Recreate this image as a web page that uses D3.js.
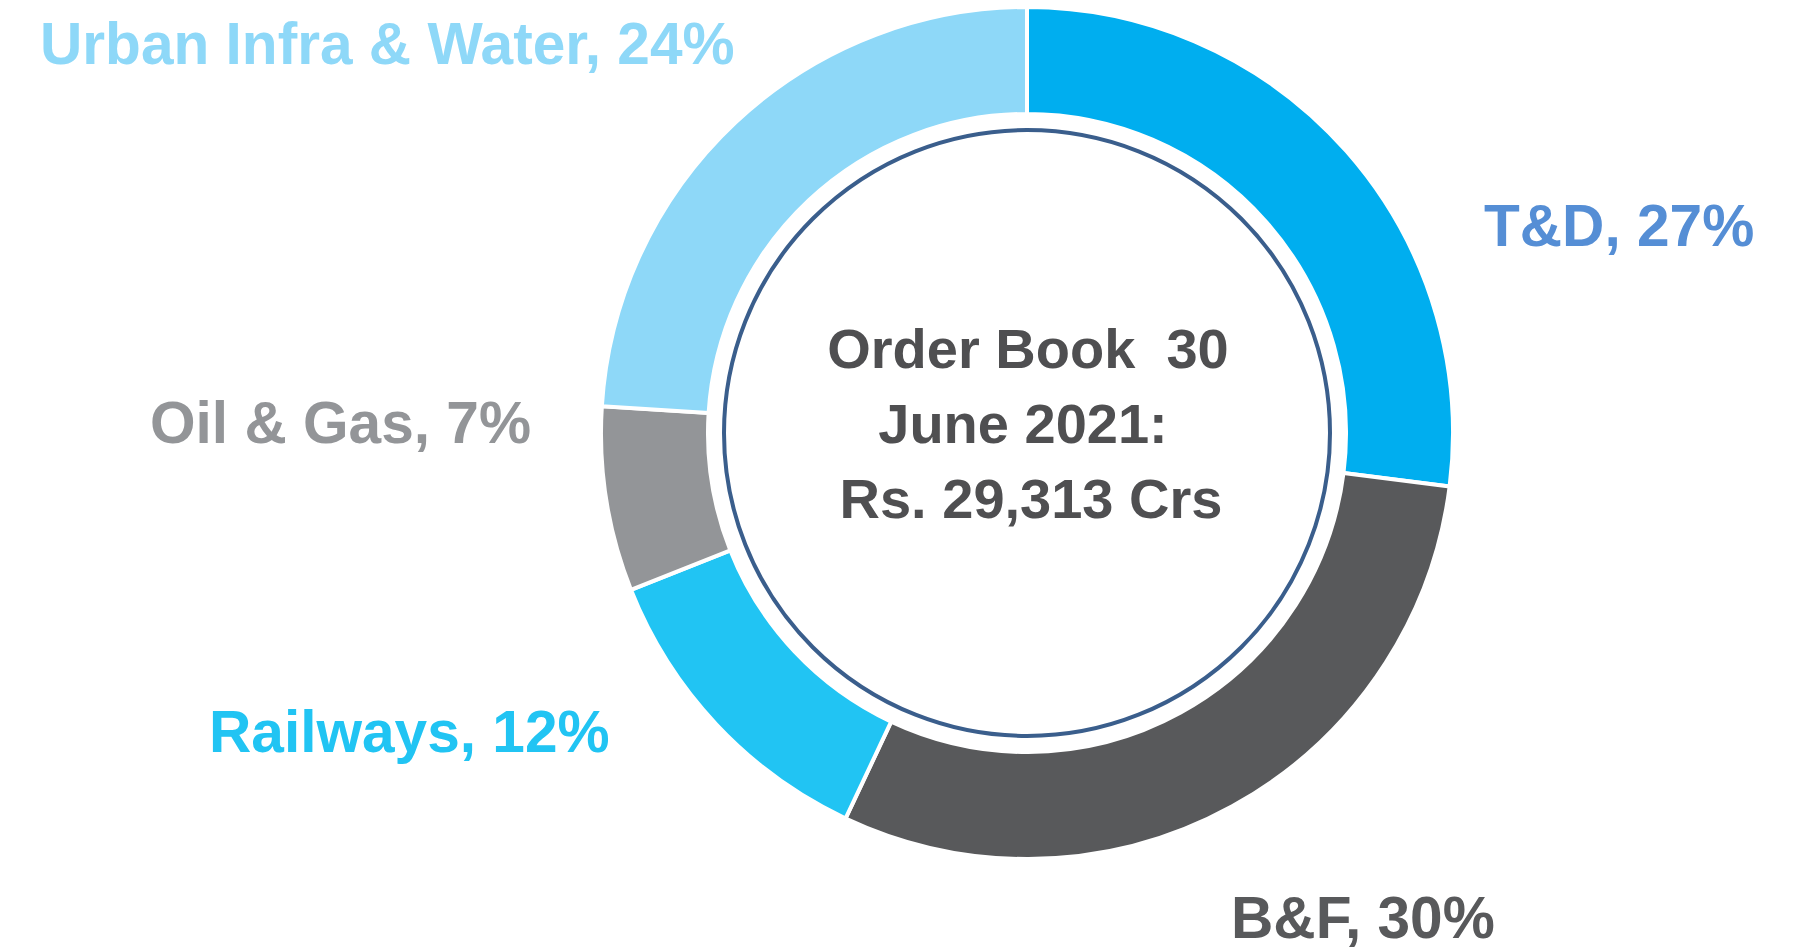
<!DOCTYPE html>
<html>
<head>
<meta charset="utf-8">
<script src="https://cdn.jsdelivr.net/npm/d3@7"></script>
<style>
  html, body { margin: 0; padding: 0; background: #ffffff; }
  svg { display: block; }
  text { font-family: "Liberation Sans", Arial, sans-serif; font-weight: bold; white-space: pre; }
</style>
</head>
<body>
<svg id="chart" width="1801" height="950"></svg>
<script>
// Data
const categories = ["T&D", "B&F", "Railways", "Oil & Gas", "Urban Infra & Water"];
const shares = [27, 30, 12, 7, 24];
const sliceColors = ["#00AEEF", "#58595B", "#21C4F3", "#939598", "#8ED8F8"];
const labelColors = ["#558ED5", "#58595B", "#21C4F3", "#939598", "#8ED8F8"];
const centerLines = ["Order Book  30", "June 2021:", "Rs. 29,313 Crs"];

// Layout
const W = 1801, H = 950;
const cx = 1027, cy = 433;
const outerR = 426, innerR = 319, ringR = 303;
const labelPos = [
  [1484, 246],
  [1231, 938],
  [209, 752],
  [150, 443],
  [40, 64]
];
const centerX = [1028, 1023, 1031];
const centerBaselines = [368, 443, 518];

const svg = d3.select("#chart");
const g = svg.append("g").attr("transform", `translate(${cx},${cy})`);

const pie = d3.pie().sort(null).value(d => d.value).startAngle(0).endAngle(2 * Math.PI);
const arc = d3.arc().innerRadius(innerR).outerRadius(outerR);
const data = categories.map((c, i) => ({ name: c, value: shares[i], i }));

g.selectAll("path.slice")
  .data(pie(data))
  .join("path")
  .attr("class", "slice")
  .attr("d", arc)
  .attr("fill", d => sliceColors[d.data.i])
  .attr("stroke", "#ffffff")
  .attr("stroke-width", 4)
  .attr("stroke-linejoin", "miter");

g.append("circle")
  .attr("r", ringR)
  .attr("fill", "none")
  .attr("stroke", "#3A5E8C")
  .attr("stroke-width", 4);

svg.selectAll("text.label")
  .data(data)
  .join("text")
  .attr("class", "label")
  .attr("x", d => labelPos[d.i][0])
  .attr("y", d => labelPos[d.i][1])
  .attr("fill", d => labelColors[d.i])
  .attr("font-size", 58.6)
  .text(d => `${d.name}, ${d.value}%`);

svg.selectAll("text.center")
  .data(centerLines)
  .join("text")
  .attr("class", "center")
  .attr("x", (d, i) => centerX[i])
  .attr("y", (d, i) => centerBaselines[i])
  .attr("text-anchor", "middle")
  .attr("fill", "#4F4F51")
  .attr("font-size", 56)
  .text(d => d);
</script>
</body>
</html>
